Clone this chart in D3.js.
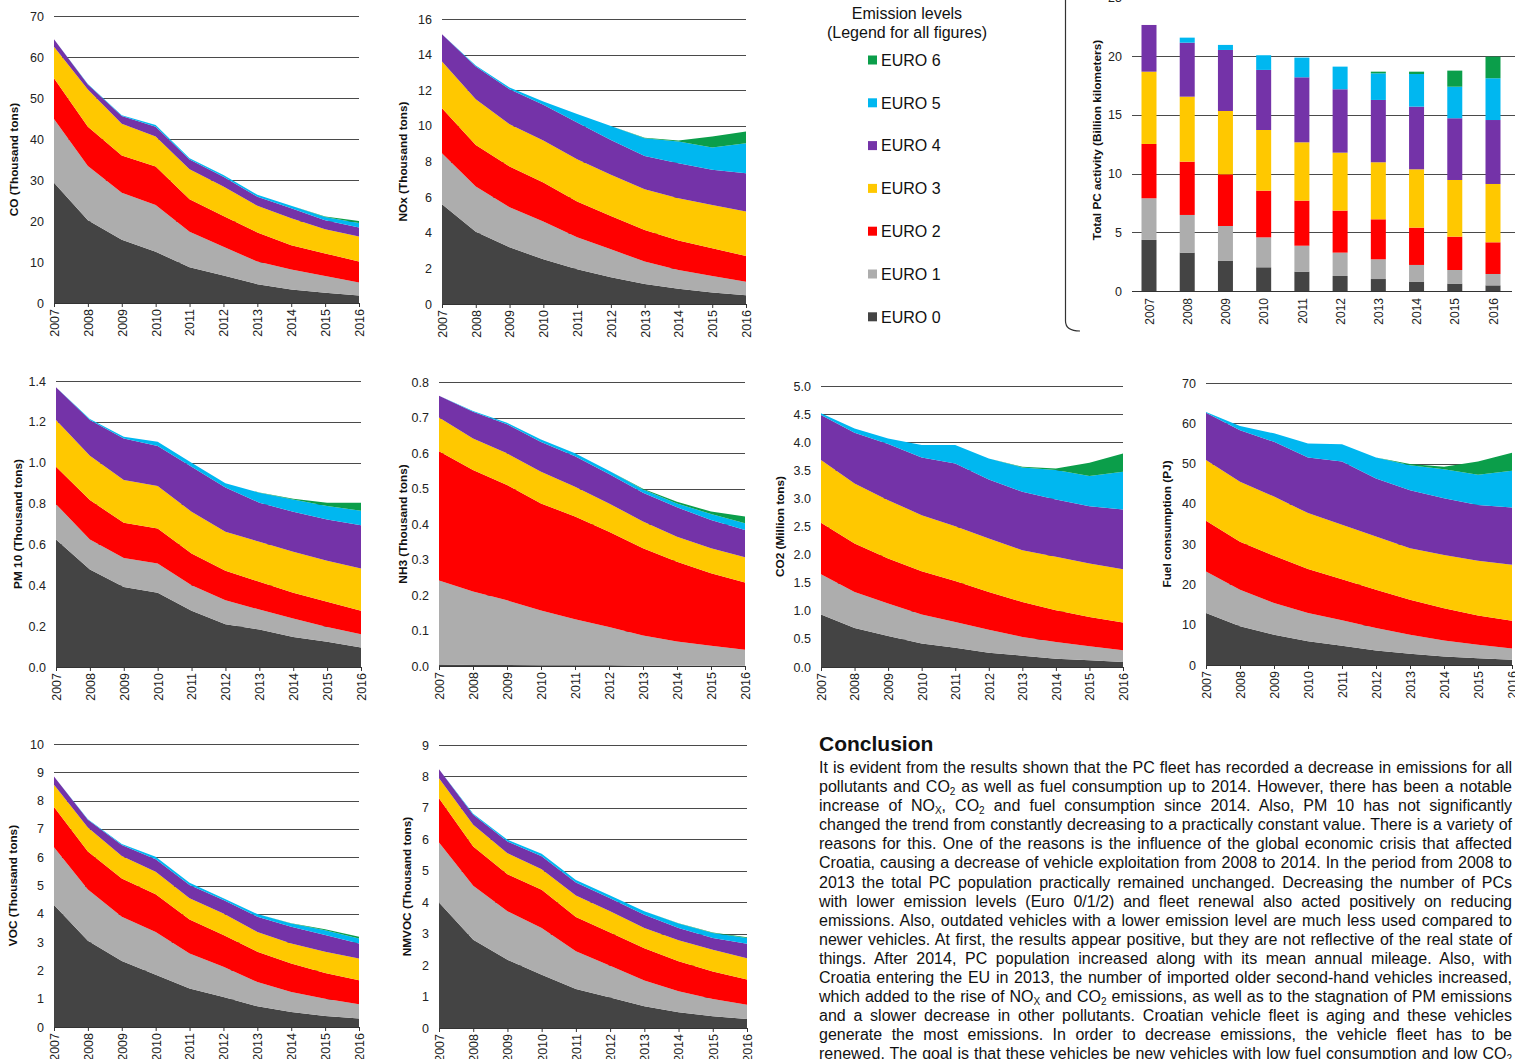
<!DOCTYPE html>
<html>
<head>
<meta charset="UTF-8">
<title>PC emissions by Euro level</title>
<script src="https://d3js.org/d3.v7.min.js"></script>
<style>
  body { margin: 0; background: #fff; overflow: hidden; }
  #wrap { position: relative; width: 1515px; height: 1059px; overflow: hidden; }
  svg { position: absolute; left: 0; top: 0; font-family: "Liberation Sans", Arial, sans-serif; }
  .tick text { font-size: 12.5px; fill: #222; }
  .ylab { font-size: 11.8px; font-weight: bold; fill: #111; }
  #conclusion { position: absolute; left: 819px; top: 758px; width: 693px;
    font-family: "Liberation Sans Narrow", "Arial Narrow", sans-serif; font-stretch: condensed;
    font-size: 16px; color: #111; }
  #conclusion .ln { height: 19.1px; line-height: 19.1px; text-align: justify; text-align-last: justify; }
  #conclusion sub { font-size: 10px; line-height: 0; vertical-align: -3px; }
</style>
</head>
<body>
<div id="wrap">
  <svg id="fig" width="1515" height="1059"></svg>
  <div id="conclusion"></div>
</div>

<script>
// ---- data ----
var years = [2007, 2008, 2009, 2010, 2011, 2012, 2013, 2014, 2015, 2016];
var levels = ['EURO 0', 'EURO 1', 'EURO 2', 'EURO 3', 'EURO 4', 'EURO 5', 'EURO 6'];
var levelColors = ['#444444', '#adadad', '#ff0000', '#ffc800', '#7433a8', '#00b7f0', '#0b9e4a'];

// one row per Euro level (0..6), one value per year
var coValues = [
  [29.3, 20.2, 15.4, 12.5, 8.7, 6.7, 4.6, 3.3, 2.5, 1.8],
  [15.6, 13.2, 11.5, 11.4, 8.7, 7.0, 5.5, 4.9, 4.1, 3.2],
  [9.9, 9.6, 9.1, 9.4, 7.9, 7.5, 7.1, 5.9, 5.5, 5.1],
  [7.7, 9.1, 7.7, 7.3, 7.3, 7.2, 6.5, 6.6, 5.9, 6.1],
  [1.8, 1.2, 1.9, 2.4, 2.4, 2.4, 2.2, 2.4, 2.2, 2.2],
  [0, 0.1, 0.2, 0.4, 0.3, 0.4, 0.5, 0.6, 0.8, 1.1],
  [0, 0, 0, 0, 0, 0, 0, 0, 0.1, 0.5]
];
var noxValues = [
  [5.60, 4.06, 3.18, 2.51, 1.95, 1.50, 1.12, 0.86, 0.64, 0.49],
  [2.86, 2.53, 2.25, 2.12, 1.80, 1.57, 1.26, 1.05, 0.93, 0.76],
  [2.53, 2.34, 2.29, 2.19, 2.00, 1.87, 1.78, 1.65, 1.56, 1.45],
  [2.62, 2.57, 2.37, 2.36, 2.38, 2.31, 2.28, 2.38, 2.43, 2.49],
  [1.54, 1.83, 1.97, 2.00, 2.06, 1.96, 1.87, 1.96, 1.97, 2.15],
  [0, 0.06, 0.09, 0.19, 0.48, 0.79, 1.00, 1.22, 1.25, 1.69],
  [0, 0, 0, 0, 0, 0, 0.02, 0.06, 0.62, 0.65]
];
var activityValues = [
  [4.35, 3.27, 2.59, 2.02, 1.65, 1.28, 1.02, 0.80, 0.63, 0.48],
  [3.55, 3.21, 2.95, 2.55, 2.21, 1.99, 1.68, 1.42, 1.16, 0.97],
  [4.63, 4.54, 4.40, 3.98, 3.84, 3.58, 3.41, 3.18, 2.84, 2.70],
  [6.16, 5.54, 5.40, 5.17, 4.97, 4.94, 4.86, 4.97, 4.83, 4.97],
  [3.98, 4.60, 5.20, 5.12, 5.54, 5.40, 5.31, 5.34, 5.26, 5.45],
  [0, 0.43, 0.43, 1.25, 1.68, 1.93, 2.27, 2.78, 2.69, 3.56],
  [0, 0, 0, 0, 0, 0, 0.14, 0.20, 1.37, 1.84]
];
var pm10Values = [
  [0.624, 0.477, 0.392, 0.363, 0.275, 0.209, 0.183, 0.147, 0.123, 0.095],
  [0.173, 0.147, 0.142, 0.144, 0.125, 0.118, 0.098, 0.090, 0.073, 0.065],
  [0.183, 0.193, 0.172, 0.171, 0.156, 0.144, 0.136, 0.126, 0.123, 0.115],
  [0.229, 0.217, 0.209, 0.208, 0.204, 0.191, 0.196, 0.201, 0.201, 0.207],
  [0.160, 0.175, 0.204, 0.196, 0.220, 0.217, 0.191, 0.196, 0.202, 0.212],
  [0, 0.005, 0.008, 0.021, 0.020, 0.020, 0.049, 0.060, 0.066, 0.071],
  [0, 0, 0, 0, 0, 0, 0.001, 0.004, 0.016, 0.039]
];
var nh3Values = [
  [0.004, 0.003, 0.003, 0.002, 0.002, 0.002, 0.001, 0.001, 0.001, 0.001],
  [0.237, 0.207, 0.182, 0.154, 0.130, 0.108, 0.085, 0.068, 0.056, 0.045],
  [0.364, 0.342, 0.325, 0.302, 0.289, 0.268, 0.246, 0.225, 0.204, 0.189],
  [0.095, 0.089, 0.089, 0.089, 0.084, 0.080, 0.075, 0.070, 0.071, 0.071],
  [0.061, 0.075, 0.082, 0.084, 0.086, 0.083, 0.081, 0.083, 0.079, 0.077],
  [0, 0.002, 0.004, 0.007, 0.008, 0.009, 0.009, 0.011, 0.017, 0.019],
  [0, 0, 0, 0, 0, 0, 0.002, 0.005, 0.007, 0.019]
];
var co2Values = [
  [0.932, 0.695, 0.552, 0.416, 0.344, 0.255, 0.202, 0.148, 0.119, 0.089],
  [0.719, 0.641, 0.576, 0.516, 0.458, 0.410, 0.332, 0.297, 0.249, 0.208],
  [0.914, 0.861, 0.802, 0.772, 0.730, 0.671, 0.624, 0.565, 0.523, 0.493],
  [1.117, 1.069, 1.039, 0.998, 0.974, 0.950, 0.920, 0.950, 0.950, 0.950],
  [0.802, 0.903, 0.998, 1.027, 1.116, 1.051, 1.040, 1.021, 1.021, 1.063],
  [0.029, 0.077, 0.101, 0.220, 0.327, 0.374, 0.433, 0.523, 0.535, 0.671],
  [0, 0, 0, 0, 0, 0, 0.012, 0.029, 0.237, 0.326]
];
var fuelValues = [
  [12.9, 9.6, 7.5, 5.9, 4.8, 3.6, 2.8, 2.1, 1.7, 1.3],
  [10.3, 9.1, 7.9, 7.0, 6.3, 5.6, 4.7, 4.0, 3.3, 2.8],
  [12.6, 11.9, 11.7, 10.9, 10.2, 9.5, 8.7, 8.0, 7.3, 6.9],
  [15.1, 14.9, 14.7, 13.9, 13.5, 13.2, 12.8, 13.2, 13.6, 13.9],
  [11.7, 12.8, 13.6, 13.8, 15.7, 14.4, 14.4, 14.1, 13.8, 14.2],
  [0.2, 1.0, 2.1, 3.5, 4.3, 5.2, 6.2, 7.2, 7.5, 9.1],
  [0, 0, 0, 0, 0, 0, 0.3, 0.6, 3.3, 4.5]
];
var vocValues = [
  [4.31, 3.05, 2.33, 1.85, 1.36, 1.06, 0.73, 0.53, 0.39, 0.30],
  [2.04, 1.81, 1.57, 1.51, 1.24, 1.07, 0.86, 0.71, 0.61, 0.50],
  [1.42, 1.34, 1.35, 1.33, 1.20, 1.12, 1.07, 1.00, 0.91, 0.85],
  [0.79, 0.85, 0.79, 0.80, 0.75, 0.76, 0.70, 0.71, 0.75, 0.77],
  [0.29, 0.27, 0.39, 0.44, 0.47, 0.48, 0.54, 0.59, 0.59, 0.53],
  [0, 0.02, 0.04, 0.09, 0.08, 0.06, 0.09, 0.12, 0.17, 0.18],
  [0, 0, 0, 0, 0, 0, 0, 0.01, 0.03, 0.06]
];
var nmvocValues = [
  [3.99, 2.81, 2.17, 1.69, 1.24, 0.97, 0.69, 0.50, 0.37, 0.29],
  [1.91, 1.71, 1.54, 1.49, 1.20, 1.01, 0.82, 0.67, 0.55, 0.45],
  [1.41, 1.25, 1.18, 1.22, 1.09, 1.06, 1.03, 0.95, 0.88, 0.80],
  [0.63, 0.69, 0.67, 0.65, 0.68, 0.67, 0.64, 0.67, 0.69, 0.68],
  [0.29, 0.32, 0.37, 0.41, 0.42, 0.42, 0.42, 0.39, 0.37, 0.46],
  [0, 0.03, 0.06, 0.08, 0.08, 0.08, 0.11, 0.14, 0.16, 0.18],
  [0, 0, 0, 0, 0, 0, 0, 0.01, 0.02, 0.03]
];

var conclusionLines = [
  'It is evident from the results shown that the PC fleet has recorded a decrease in emissions for all',
  'pollutants and CO<sub>2</sub> as well as fuel consumption up to 2014. However, there has been a notable',
  'increase of NO<sub>X</sub>, CO<sub>2</sub> and fuel consumption since 2014. Also, PM 10 has not significantly',
  'changed the trend from constantly decreasing to a practically constant value. There is a variety of',
  'reasons for this. One of the reasons is the influence of the global economic crisis that affected',
  'Croatia, causing a decrease of vehicle exploitation from 2008 to 2014. In the period from 2008 to',
  '2013 the total PC population practically remained unchanged. Decreasing the number of PCs',
  'with lower emission levels (Euro 0/1/2) and fleet renewal also acted positively on reducing',
  'emissions. Also, outdated vehicles with a lower emission level are much less used compared to',
  'newer vehicles. At first, the results appear positive, but they are not reflective of the real state of',
  'things. After 2014, PC population increased along with its mean annual mileage. Also, with',
  'Croatia entering the EU in 2013, the number of imported older second-hand vehicles increased,',
  'which added to the rise of NO<sub>X</sub> and CO<sub>2</sub> emissions, as well as to the stagnation of PM emissions',
  'and a slower decrease in other pollutants. Croatian vehicle fleet is aging and these vehicles',
  'generate the most emissions. In order to decrease emissions, the vehicle fleet has to be',
  'renewed. The goal is that these vehicles be new vehicles with low fuel consumption and low CO<sub>2</sub>'
];

// ---- helpers ----
var svg = d3.select('#fig');
var stack = d3.stack().keys(levels);

function toRows(values) {
  return years.map(function(yr, i) {
    var row = { year: yr };
    levels.forEach(function(l, k) { row[l] = values[k][i]; });
    return row;
  });
}

function yLabel(text, x, cy) {
  svg.append('text')
     .attr('class', 'ylab')
     .attr('transform', 'translate(' + x + ',' + cy + ') rotate(-90)')
     .attr('text-anchor', 'middle')
     .attr('dy', '0.35em')
     .text(text);
}

function drawArea(cfg) {
  var g = svg.append('g');
  var x = d3.scalePoint().domain(years).range([cfg.left, cfg.right]);
  var y = d3.scaleLinear().domain([0, cfg.max]).range([cfg.bottom, cfg.top]);
  var ticks = d3.range(0, cfg.max + cfg.step / 2, cfg.step);

  // gridlines
  g.selectAll('.grid')
   .data(ticks.slice(1))
   .enter().append('line')
     .attr('x1', cfg.left).attr('x2', cfg.right)
     .attr('y1', function(d) { return Math.round(y(d)) + 0.5; })
     .attr('y2', function(d) { return Math.round(y(d)) + 0.5; })
     .attr('stroke', '#4a4a4a')
     .attr('stroke-width', 1);

  var area = d3.area()
               .x(function(d) { return x(d.data.year); })
               .y0(function(d) { return y(d[0]); })
               .y1(function(d) { return y(d[1]); });

  g.selectAll('.layer')
   .data(stack(toRows(cfg.values)))
   .enter().append('path')
     .attr('d', area)
     .attr('fill', function(d, i) { return levelColors[i]; });

  // x axis
  var xa = g.append('g')
            .attr('transform', 'translate(0,' + cfg.bottom + ')')
            .call(d3.axisBottom(x).tickSize(4).tickSizeOuter(0));
  xa.select('.domain').attr('stroke', '#333');
  xa.selectAll('.tick line').attr('stroke', '#333');
  xa.selectAll('text')
    .attr('transform', 'rotate(-90)')
    .attr('text-anchor', 'end')
    .attr('x', -6).attr('y', 0).attr('dy', '0.35em');

  // y axis
  var ya = g.append('g')
            .attr('transform', 'translate(' + cfg.left + ',0)')
            .call(d3.axisLeft(y).tickValues(ticks).tickSize(0).tickPadding(10).tickFormat(d3.format(cfg.fmt)));
  ya.select('.domain').remove();

  yLabel(cfg.label, cfg.labelX, (cfg.top + cfg.bottom) / 2);
}

// ---- area charts ----
drawArea({ values: coValues, left: 54, right: 359, top: 16, bottom: 303, max: 70, step: 10, fmt: 'd',
           label: 'CO (Thousand tons)', labelX: 14 });
drawArea({ values: noxValues, left: 442, right: 746, top: 19, bottom: 304, max: 16, step: 2, fmt: 'd',
           label: 'NOx (Thousand tons)', labelX: 403 });
drawArea({ values: pm10Values, left: 56, right: 361, top: 381, bottom: 667, max: 1.4, step: 0.2, fmt: '.1f',
           label: 'PM 10 (Thousand tons)', labelX: 18 });
drawArea({ values: nh3Values, left: 439, right: 745, top: 382, bottom: 666, max: 0.8, step: 0.1, fmt: '.1f',
           label: 'NH3 (Thousand tons)', labelX: 403 });
drawArea({ values: co2Values, left: 821, right: 1123, top: 386, bottom: 667, max: 5, step: 0.5, fmt: '.1f',
           label: 'CO2 (Million tons)', labelX: 780 });
drawArea({ values: fuelValues, left: 1206, right: 1512, top: 383, bottom: 665, max: 70, step: 10, fmt: 'd',
           label: 'Fuel consumption (PJ)', labelX: 1167 });
drawArea({ values: vocValues, left: 54, right: 359, top: 744, bottom: 1027, max: 10, step: 1, fmt: 'd',
           label: 'VOC (Thousand tons)', labelX: 13 });
drawArea({ values: nmvocValues, left: 439, right: 747, top: 745, bottom: 1028, max: 9, step: 1, fmt: 'd',
           label: 'NMVOC (Thousand tons)', labelX: 407 });

// ---- activity bar chart ----
(function() {
  var g = svg.append('g');
  var bottom = 291, top20 = 56.3;
  var y = d3.scaleLinear().domain([0, 20]).range([bottom, top20]);
  var x = d3.scalePoint().domain(years).range([1149, 1493]);
  var barW = 15;
  var ticks = d3.range(0, 26, 5);

  g.selectAll('.grid')
   .data(ticks.slice(1))
   .enter().append('line')
     .attr('x1', 1132).attr('x2', 1515)
     .attr('y1', function(d) { return Math.round(y(d)) + 0.5; })
     .attr('y2', function(d) { return Math.round(y(d)) + 0.5; })
     .attr('stroke', '#4a4a4a');

  var layers = g.selectAll('.layer')
                .data(stack(toRows(activityValues)))
                .enter().append('g')
                  .attr('fill', function(d, i) { return levelColors[i]; });
  layers.selectAll('rect')
        .data(function(d) { return d; })
        .enter().append('rect')
          .attr('x', function(d) { return x(d.data.year) - barW / 2; })
          .attr('width', barW)
          .attr('y', function(d) { return y(d[1]); })
          .attr('height', function(d) { return y(d[0]) - y(d[1]); });

  var xa = g.append('g')
            .attr('transform', 'translate(0,' + bottom + ')')
            .call(d3.axisBottom(x).tickSize(0).tickSizeOuter(0));
  xa.select('.domain').attr('d', 'M1132,0.5H1512').attr('stroke', '#333');
  xa.selectAll('text')
    .style('font-size', '12px')
    .attr('transform', 'rotate(-90)')
    .attr('text-anchor', 'end')
    .attr('x', -7).attr('y', 0).attr('dy', '0.35em');

  var ya = g.append('g')
            .attr('transform', 'translate(1132,0)')
            .call(d3.axisLeft(y).tickValues(ticks).tickSize(0).tickPadding(10));
  ya.select('.domain').remove();

  yLabel('Total PC activity (Billion kilometers)', 1097, 140);

  // rounded frame corner on the left
  svg.append('path')
     .attr('d', 'M1065.5,0V321Q1065.5,331 1080,331')
     .attr('fill', 'none')
     .attr('stroke', '#333')
     .attr('stroke-width', 1.2);
})();

// ---- legend ----
var legend = svg.append('g').attr('font-size', '16px').attr('fill', '#111');
legend.append('text').attr('x', 907).attr('y', 19).attr('text-anchor', 'middle').text('Emission levels');
legend.append('text').attr('x', 907).attr('y', 38).attr('text-anchor', 'middle').text('(Legend for all figures)');
var items = legend.selectAll('.item')
                  .data(levels.slice().reverse())
                  .enter().append('g')
                  .attr('transform', function(d, i) { return 'translate(868,' + (60 + i * 42.8) + ')'; });
items.append('rect')
     .attr('x', 0).attr('y', -4.5).attr('width', 9).attr('height', 9)
     .attr('fill', function(d) { return levelColors[levels.indexOf(d)]; });
items.append('text')
     .attr('x', 13).attr('dy', '0.36em')
     .text(function(d) { return d; });

// ---- conclusion ----
svg.append('text')
   .attr('x', 819).attr('y', 751)
   .attr('font-size', '21px').attr('font-weight', 'bold').attr('fill', '#111')
   .text('Conclusion');

d3.select('#conclusion').selectAll('.ln')
  .data(conclusionLines)
  .enter().append('div')
    .attr('class', 'ln')
    .html(function(d) { return d; });
</script>
</body>
</html>
